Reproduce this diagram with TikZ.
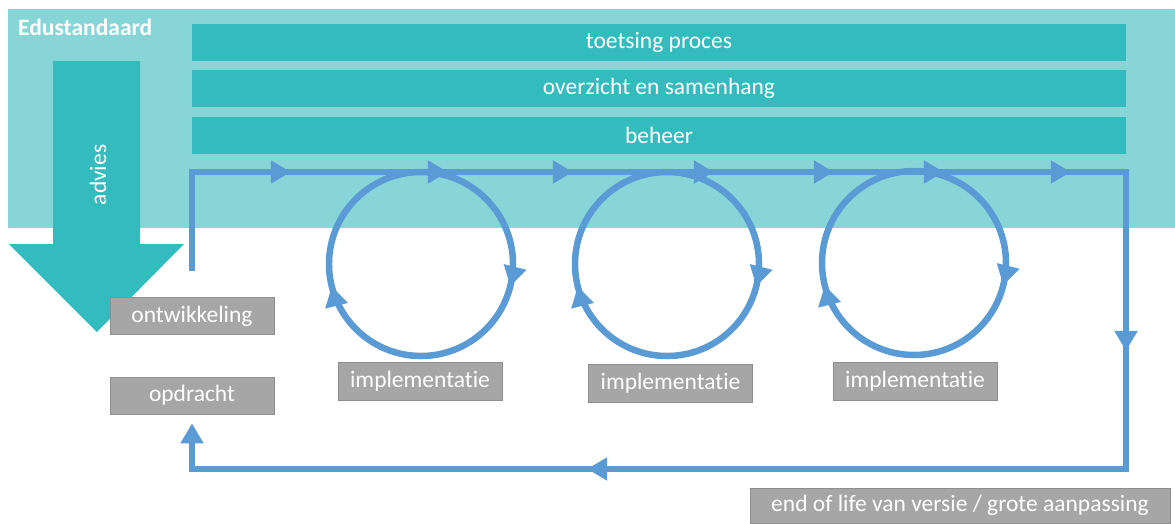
\documentclass[tikz,border=0pt]{standalone}
\usepackage{fontspec}
\setmainfont[Ligatures=NoCommon]{Carlito}
\usetikzlibrary{arrows.meta,decorations.markings,positioning}

\definecolor{bandteal}{HTML}{88D5D7}
\definecolor{barteal}{HTML}{33BBBE}
\definecolor{flowblue}{HTML}{5B9BD5}
\definecolor{stagegray}{HTML}{A6A6A6}
\definecolor{stageedge}{HTML}{8E8E8E}

\newcommand{\diagfont}{\fontsize{23.5pt}{28pt}\selectfont}
% keeps t and i apart (Carlito joins them otherwise)
\newcommand{\impltext}{implementat\kern0pt ie}

\tikzset{
  bar/.style={fill=barteal, minimum width=934pt, minimum height=37pt, inner sep=0pt},
  stagebox/.style={fill=stagegray, draw=stageedge, line width=0.8pt,
    minimum width=164pt, minimum height=37pt, inner sep=0pt},
  flow/.style={draw=flowblue, line width=6.5pt},
  loopmarks/.style={postaction={decorate, decoration={markings,
    mark=at position 198pt with {\arrow{>}},
    mark=at position 355pt with {\arrow{>}},
    mark=at position 480pt with {\arrow{>}},
    mark=at position 621pt with {\arrow{>}},
    mark=at position 741pt with {\arrow{>}},
    mark=at position 851pt with {\arrow{>}},
    mark=at position 978pt with {\arrow{>}},
    mark=at position 1212pt with {\arrow{>}},
    mark=at position 1869pt with {\arrow{>}}}}},
  ringmarks/.style={postaction={decorate, decoration={markings,
    mark=at position 0.289 with {\arrow{>}},
    mark=at position 0.711 with {\arrow{>}}}}}
}

\begin{document}
\begin{tikzpicture}[x=1pt, y=-1pt, >={Triangle[length=20pt,width=22pt]},
    every node/.style={font=\diagfont, text=white}]
  \useasboundingbox (0,0) rectangle (1175,523);

  % band and the three bars
  \fill[bandteal] (8,9) rectangle (1175,228);
  \node[bar] (proces) at (659,42) {toetsing proces};
  \node[bar] (overzicht) at (659,88.5) {overzicht en samenhang};
  \node[bar] (beheer) at (659,135.5) {beheer};

  % big advice arrow
  \fill[barteal] (53,61) -- (140,61) -- (140,244) -- (184,244) -- (97,332)
    -- (9,244) -- (53,244) -- cycle;
  \node[rotate=90] (advies) at (98,175) {advies};
  \node[anchor=base west, inner sep=0pt, font=\diagfont\bfseries] (edu) at (18,35) {Edustandaard};

  % stages
  \node[stagebox] (ontw) at (192,316) {ontwikkeling};
  \node[stagebox] (opdracht) at (192,395.5) {opdracht};
  \node[stagebox, minimum height=38pt] (impl1) at (420,381) {\impltext};
  \node[stagebox, minimum height=38pt] (impl2) at (670.5,383.5) {\impltext};
  \node[stagebox, minimum height=38pt] (impl3) at (915,381.5) {\impltext};
  \node[stagebox, minimum width=420pt, minimum height=35pt] (eol) at (960,505.5) {end of life van versie / grote aanpassing};

  % outer loop
  \coordinate (tr) at (1126,172);
  \coordinate (br) at (1126,469);
  \draw[flow, ->, loopmarks] ([yshift=26pt]ontw.north) |- (tr) -- (br)
    -| ([yshift=-9pt]opdracht.south);

  % implementation cycles
  \coordinate (c1) at (421,264);
  \coordinate (c2) at (667,264);
  \coordinate (c3) at (914,263);
  \foreach \c in {c1,c2,c3}
    \draw[flow, ringmarks] (\c) ++(90:92pt) arc[start angle=90, end angle=-270, radius=92pt];
\end{tikzpicture}
\end{document}
